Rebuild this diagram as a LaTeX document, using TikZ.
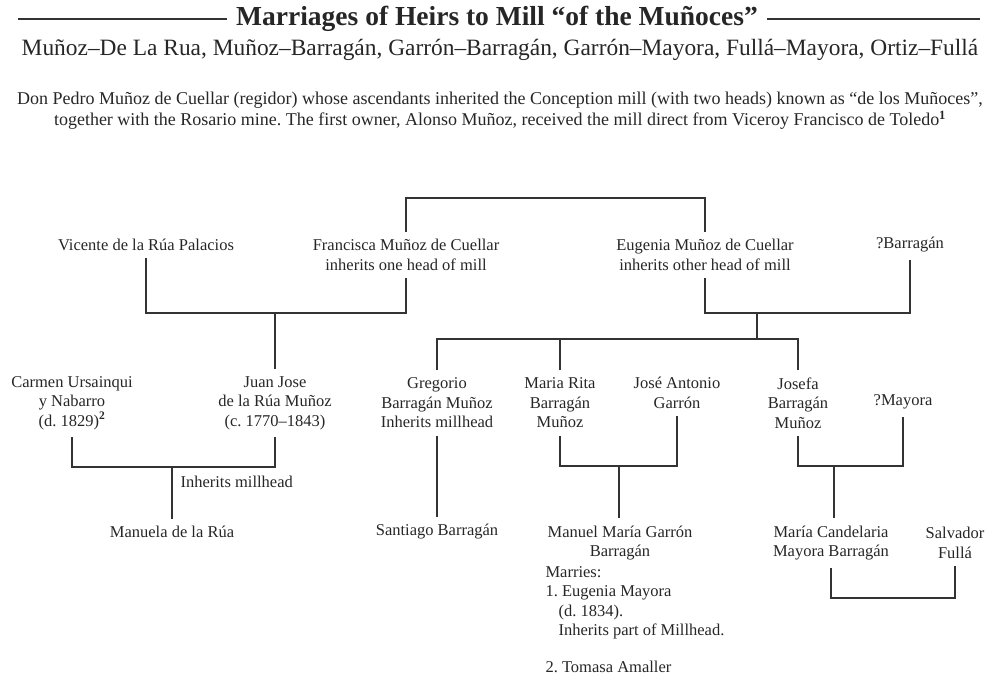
\documentclass[tikz,border=0pt]{standalone}
\usepackage{fontspec}
\setmainfont{Liberation Serif}
\frenchspacing

\begin{document}
\begin{tikzpicture}
  [x=1pt, y=-1pt, line width=1.1pt,
   every node/.style={align=center, inner xsep=2pt, inner ysep=7pt, text=black!85,
                      font=\fontsize{16.5}{19.5}\selectfont},
   line/.style={draw=black!80}]
  \useasboundingbox (0,0) rectangle (999,688);
  % heading
  \node[inner sep=3pt, font=\bfseries\fontsize{27.5}{30}\selectfont] (title) at (497,19)
    {Marriages of Heirs to Mill “of the Muñoces”};
  \draw[line] (18,19) -- ([xshift=-6pt]title.west);
  \draw[line] ([xshift=6pt]title.east) -- (980,19);
  \node[inner sep=3pt, font=\fontsize{23.4}{26}\selectfont] (pairs) at (500,50)
    {Muñoz–De La Rua, Muñoz–Barragán, Garrón–Barragán, Garrón–Mayora, Fullá–Mayora, Ortiz–Fullá};
  \node[inner sep=3pt, font=\fontsize{18}{21}\selectfont] (intro) at (500,111)
    {Don Pedro Muñoz de Cuellar (regidor) whose ascendants inherited the Conception mill (with two heads) known as “de los Muñoces”,\\
     together with the Rosario mine. The first owner, Alonso Muñoz, received the mill direct from Viceroy Francisco de Toledo\textsuperscript{\textbf{1}}};
  % first generation
  \node (vic) at (146,245) {Vicente de la Rúa Palacios};
  \node (fra) at (406,255) {Francisca Muñoz de Cuellar\\inherits one head of mill};
  \node (eug) at (705,255) {Eugenia Muñoz de Cuellar\\inherits other head of mill};
  \node (bar) at (910,245) {?Barragán};
  % second generation
  \node (car) at (72,403) {Carmen Ursainqui\\y Nabarro\\(d. 1829)\textsuperscript{\textbf{2}}};
  \node (juan) at (275,403) {Juan Jose\\de la Rúa Muñoz\\(c. 1770–1843)};
  \node (greg) at (437,403) {Gregorio\\Barragán Muñoz\\Inherits millhead};
  \node (rita) at (560,403) {Maria Rita\\Barragán\\Muñoz};
  \node (gar) at (677,393) {José Antonio\\Garrón};
  \node (jos) at (798,403) {Josefa\\Barragán\\Muñoz};
  \node (may) at (903,402) {?Mayora};
  % third generation
  \node (man) at (172,532) {Manuela de la Rúa};
  \node (san) at (437,532) {Santiago Barragán};
  \node (mmg) at (620,543) {Manuel María Garrón\\Barragán};
  \node[align=left, anchor=north west, inner sep=0pt] (wed) at (545,566)
    {Marries:\\1. Eugenia Mayora\\\hspace*{13pt}(d. 1834).\\\hspace*{13pt}Inherits part of Millhead.\\[17pt]2. Tomasa Amaller};
  \node (cand) at (831,543) {María Candelaria\\Mayora Barragán};
  \node (salv) at (955,543) {Salvador\\Fullá};
  % connectors
  \coordinate (top) at (555,198);
  \draw[line] (fra.north) |- (top) -| (eug.north);
  \coordinate (m1) at (275,313);
  \draw[line] (vic.south) |- (m1) -| (fra.south);
  \draw[line] (m1) -- (juan.north);
  \coordinate (m2) at (757,313);
  \coordinate (sib) at (757,339);
  \draw[line] (eug.south) |- (m2) -| (bar.south);
  \draw[line] (m2) -- (sib);
  \draw[line] (greg.north) |- (sib) -| (jos.north);
  \draw[line] (rita.north) -- (rita.north |- sib);
  \coordinate (m3) at (172,467);
  \draw[line] (car.south) |- (m3) -| (juan.south);
  \draw[line] (m3) -- (man.north);
  \node[anchor=west, inner sep=0pt] (inh) at (180,482) {Inherits millhead};
  \draw[line] (greg.south) -- (san.north);
  \coordinate (m4) at (619,466);
  \draw[line] (rita.south) |- (m4) -| (gar.south);
  \draw[line] (m4) -- (m4 |- mmg.north);
  \coordinate (m5) at (834,466);
  \draw[line] (jos.south) |- (m5) -| (may.south);
  \draw[line] (m5) -- (m5 |- cand.north);
  \coordinate (m6) at (894,598);
  \draw[line] (cand.south) |- (m6) -| (salv.south);
\end{tikzpicture}
\end{document}
